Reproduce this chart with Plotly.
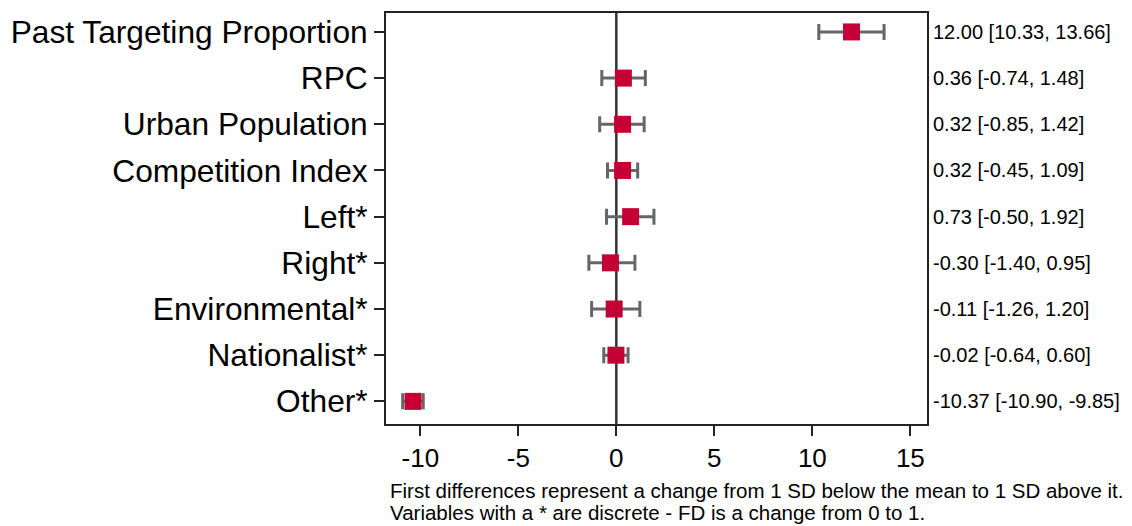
import plotly.graph_objects as go

categories = ["Past Targeting Proportion", "RPC", "Urban Population", "Competition Index",
              "Left*", "Right*", "Environmental*", "Nationalist*", "Other*"]
estimates = [12.00, 0.36, 0.32, 0.32, 0.73, -0.30, -0.11, -0.02, -10.37]
lower = [10.33, -0.74, -0.85, -0.45, -0.50, -1.40, -1.26, -0.64, -10.90]
upper = [13.66, 1.48, 1.42, 1.09, 1.92, 0.95, 1.20, 0.60, -9.85]
x_ticks = [-10, -5, 0, 5, 10, 15]
notes = ["First differences represent a change from 1 SD below the mean to 1 SD above it.",
         "Variables with a * are discrete - FD is a change from 0 to 1."]

FONT = "Liberation Sans, Arial, sans-serif"
n = len(categories)
ypos = list(range(n - 1, -1, -1))
labels_right = [f"{e:.2f} [{l:.2f}, {u:.2f}]" for e, l, u in zip(estimates, lower, upper)]

fig = go.Figure()
fig.add_shape(type="line", x0=0, x1=0, y0=0, y1=1, xref="x", yref="paper",
              line=dict(color="#333333", width=2.5), layer="below")

fig.add_trace(go.Scatter(
    x=estimates, y=ypos, mode="markers",
    marker=dict(symbol="square", size=17, color="#C40035", line=dict(width=0)),
    error_x=dict(type="data", symmetric=False,
                 array=[u - e for u, e in zip(upper, estimates)],
                 arrayminus=[e - l for e, l in zip(estimates, lower)],
                 color="#666666", thickness=3, width=8),
    showlegend=False, hoverinfo="skip",
))

for y, t in zip(ypos, labels_right):
    fig.add_annotation(x=1, xref="paper", xanchor="left", xshift=4, y=y, yref="y",
                       text=t, showarrow=False,
                       font=dict(family=FONT, size=20, color="#000000"))

for i, note in enumerate(notes):
    fig.add_annotation(x=0, xref="paper", xanchor="left", xshift=2, y=0, yref="paper",
                       yanchor="middle", yshift=-66 - 22 * i, text=note, showarrow=False,
                       font=dict(family=FONT, size=20.5, color="#000000"))

fig.update_layout(
    width=1132, height=526,
    margin=dict(l=376, r=213, t=3, b=110),
    plot_bgcolor="white", paper_bgcolor="white",
    font=dict(family=FONT, color="#000000"),
    xaxis=dict(range=[-11.75, 15.85], tickvals=x_ticks, ticktext=[str(v) for v in x_ticks],
               showgrid=False, zeroline=False, showline=True, linecolor="#222222", linewidth=2,
               mirror=True, ticks="outside", ticklen=10, tickwidth=1.5, tickcolor="#222222",
               tickfont=dict(size=26)),
    yaxis=dict(range=[-0.49, 8.41], tickvals=ypos, ticktext=categories,
               showgrid=False, zeroline=False, showline=True, linecolor="#222222", linewidth=2,
               mirror=True, ticks="outside", ticklen=10, tickwidth=1.5, tickcolor="#222222",
               tickfont=dict(size=31.7)),
)

fig.write_html("out.html")
